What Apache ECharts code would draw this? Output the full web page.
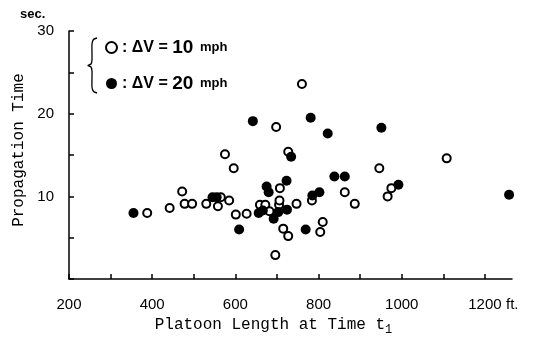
<!DOCTYPE html>
<html>
<head>
<meta charset="utf-8">
<script src="https://cdn.jsdelivr.net/npm/echarts@6/dist/echarts.min.js"></script>
<style>html,body{margin:0;padding:0;background:#fff}#c{width:540px;height:341px}</style>
</head>
<body>
<div id="c"></div>
<script>
// ΔV = 10 mph (open circles): [platoon length ft, propagation time sec]
const open10 = [
  [388, 8.0], [442, 8.6], [472, 10.6], [478, 9.1], [496, 9.1], [530, 9.1],
  [565, 9.9], [558, 8.8], [575, 15.1], [585, 9.5], [596, 13.4], [601, 7.8],
  [627, 7.9], [659, 9.0], [672, 9.0], [682, 8.2], [696, 2.9], [698, 18.4],
  [705, 9.0], [706, 9.5], [707, 11.0], [715, 6.1], [727, 5.2], [727, 15.4],
  [747, 9.1], [760, 23.6], [784, 9.5], [804, 5.7], [810, 6.9], [863, 10.5],
  [887, 9.1], [946, 13.4], [966, 10.0], [975, 11.0], [1108, 14.6]
];
// ΔV = 20 mph (filled circles)
const filled20 = [
  [355, 8.0], [545, 9.9], [555, 9.9], [609, 6.0], [642, 19.1], [656, 8.0],
  [666, 8.3], [675, 11.2], [680, 10.5], [692, 7.3], [703, 8.1], [724, 8.4],
  [723, 11.9], [734, 14.8], [769, 6.0], [781, 19.5], [785, 10.1], [802, 10.5],
  [822, 17.6], [838, 12.4], [863, 12.4], [951, 18.3], [992, 11.4], [1258, 10.2]
];
const xLabelStep = 200;   // labelled every 200 ft, ticked every 100
const yLabelStep = 10;    // labelled every 10 sec, ticked every 5

const chart = echarts.init(document.getElementById('c'), null, {renderer: 'canvas'});
const mono = '"Liberation Mono", "DejaVu Sans Mono", monospace';
const sans = '"Liberation Sans", Arial, sans-serif';
chart.setOption({
  animation: false,
  backgroundColor: '#fff',
  grid: {left: 69, right: 28, top: 31, bottom: 54.5},
  legend: {
    orient: 'vertical',
    left: 100, top: 33,
    itemWidth: 11, itemHeight: 11, itemGap: 17, itemTextGap: 3,
    data: ['10', '20'],
    formatter: function (n) { return '{a|: ΔV = }{b|' + n + '}  {c|mph}'; },
    textStyle: {
      color: '#000',
      rich: {
        a: {fontFamily: sans, fontWeight: 'bold', fontSize: 16, color: '#000'},
        b: {fontFamily: sans, fontWeight: 'bold', fontSize: 19, color: '#000'},
        c: {fontFamily: '"Liberation Sans Narrow", ' + sans, fontWeight: 'bold', fontSize: 13, color: '#000'}
      }
    }
  },
  xAxis: {
    type: 'value', min: 200, max: 1265, interval: 100,
    name: 'Platoon Length at Time t{s|1}',
    nameLocation: 'middle', nameGap: 34,
    nameTextStyle: {
      fontFamily: mono, fontSize: 16, color: '#000', padding: [0, 34, 0, 0],
      rich: {s: {fontFamily: mono, fontSize: 12, color: '#000', padding: [10, 0, 0, 0]}}
    },
    axisLine: {show: true, lineStyle: {color: '#000', width: 1.5}},
    axisTick: {show: true, inside: false, length: -5, lineStyle: {color: '#000', width: 1.5}},
    axisLabel: {margin: 18, fontFamily: sans, fontSize: 15, color: '#000', showMaxLabel: false,
      formatter: function (v) { return (v % xLabelStep === 0) ? String(v) : ''; }},
    splitLine: {show: false}
  },
  yAxis: {
    type: 'value', min: 0, max: 30, interval: 5,
    name: 'Propagation Time',
    nameLocation: 'middle', nameGap: 42,
    nameTextStyle: {fontFamily: mono, fontSize: 16, color: '#000', padding: [0, 0, 0, 10]},
    axisLine: {show: true, lineStyle: {color: '#000', width: 1.5}},
    axisTick: {show: true, inside: false, length: -5, lineStyle: {color: '#000', width: 1.5}},
    axisLabel: {margin: 15, fontFamily: sans, fontSize: 15, color: '#000',
      formatter: function (v) { return (v > 0 && v % yLabelStep === 0) ? String(v) : ''; }},
    splitLine: {show: false}
  },
  graphic: [
    {type: 'text', left: 20, top: 8, style: {text: 'sec.', font: 'bold 13px ' + sans, fill: '#000'}},
    {type: 'text', left: 506, top: 297, style: {text: 'ft.', font: '15px ' + sans, fill: '#000'}},
    {type: 'polyline', shape: {smooth: 0.25, points: [[97, 38], [93.5, 39.5], [92, 44], [92, 60], [91, 64], [88, 65.5], [91, 67], [92, 71], [92, 87], [93.5, 91.5], [97, 93]]},
      style: {fill: 'none', stroke: '#000', lineWidth: 1.3}}
  ],
  series: [
    {
      name: '10', type: 'scatter', data: open10, symbol: 'circle', symbolSize: 8,
      itemStyle: {color: '#fff', borderColor: '#000', borderWidth: 2, opacity: 1}
    },
    {
      name: '20', type: 'scatter', data: filled20, symbol: 'circle', symbolSize: 10,
      itemStyle: {color: '#000', borderColor: '#000', borderWidth: 0, opacity: 1}
    }
  ]
});
</script>
</body>
</html>
